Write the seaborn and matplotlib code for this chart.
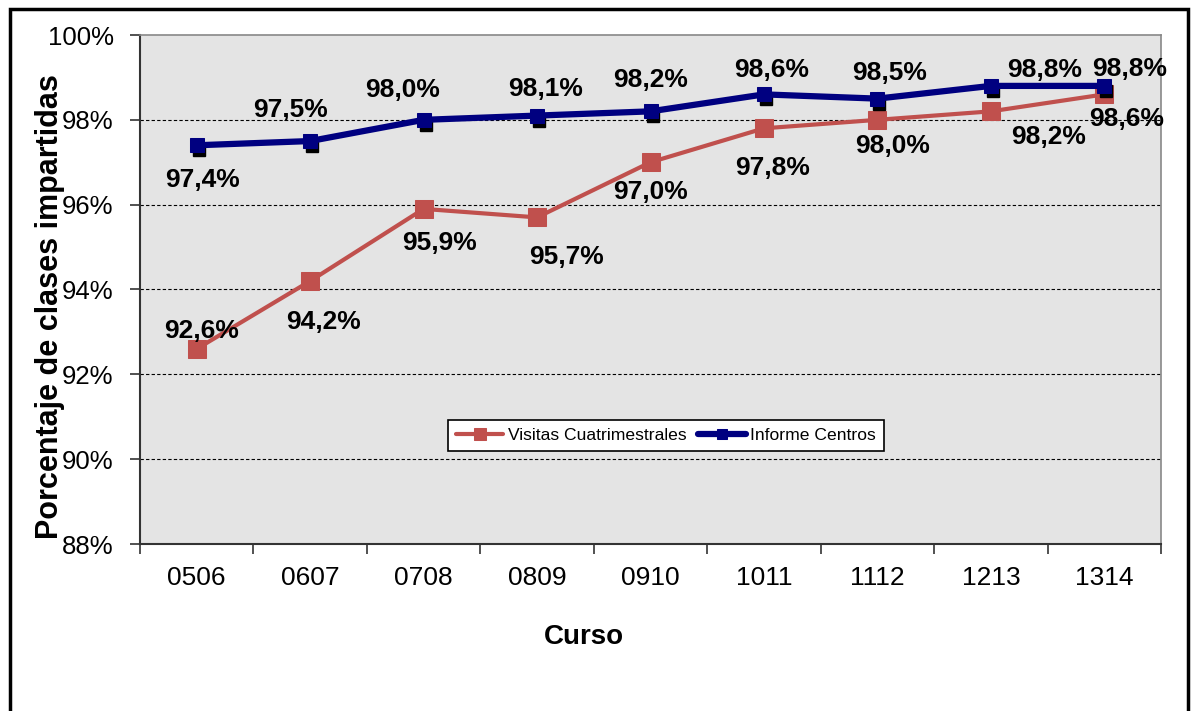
import numpy as np
import pandas as pd
import matplotlib
matplotlib.use("Agg")
import matplotlib.pyplot as plt
import matplotlib.ticker as mticker
from matplotlib.patches import Rectangle
from matplotlib.transforms import offset_copy
import seaborn as sns

# ── Datos ───────────────────────────────────────────────────────
cursos = ["0506", "0607", "0708", "0809", "0910", "1011", "1112", "1213", "1314"]
visitas = [92.6, 94.2, 95.9, 95.7, 97.0, 97.8, 98.0, 98.2, 98.6]
informe = [97.4, 97.5, 98.0, 98.1, 98.2, 98.6, 98.5, 98.8, 98.8]
serie_visitas = "Visitas Cuatrimestrales"
serie_informe = "Informe Centros"

# desplazamiento de las etiquetas de datos (px: dx, dy hacia arriba)
desp_visitas = [(5, 22), (13, -37), (16, -30), (29, -35), (0, -26),
                (9, -36), (15, -22), (58, -21), (22, -20)]
desp_informe = [(6, -31), (-20, 35), (-21, 34), (9, 31), (0, 36),
                (8, 29), (12, 30), (54, 20), (25, 21)]

sns.set_theme(style="white")
plt.rcParams["font.family"] = ["Liberation Sans", "DejaVu Sans"]
plt.rcParams["text.color"] = "black"
plt.rcParams["axes.labelcolor"] = "black"
plt.rcParams["xtick.color"] = "black"
plt.rcParams["ytick.color"] = "black"

df = pd.DataFrame({
    "Curso": cursos * 2,
    "valor": visitas + informe,
    "serie": [serie_visitas] * len(cursos) + [serie_informe] * len(cursos),
})

fig = plt.figure(figsize=(11.91, 7.11), dpi=100)
ax = fig.add_axes([140 / 1191, 1 - 544 / 711, 1021 / 1191, 509 / 711])
ax.set_facecolor("#e4e4e4")

rojo, azul = "#c0504d", "#000080"
sns.lineplot(data=df[df.serie == serie_visitas], x="Curso", y="valor",
             color=rojo, lw=3, marker="s", markersize=13,
             markeredgecolor=rojo, label=serie_visitas, ax=ax, zorder=3)
# sombra negra bajo los marcadores azules
sombra = offset_copy(ax.transData, fig=fig, x=2, y=-5, units="dots")
ax.plot(range(len(cursos)), informe, "s", color="black", ms=8,
        transform=sombra, zorder=3.5)
sns.lineplot(data=df[df.serie == serie_informe], x="Curso", y="valor",
             color=azul, lw=4.5, marker="s", markersize=10,
             markeredgecolor=azul, label=serie_informe, ax=ax, zorder=4)

# etiquetas de datos
for serie, desp in [(visitas, desp_visitas), (informe, desp_informe)]:
    for i, (v, (dx, dy)) in enumerate(zip(serie, desp)):
        ax.annotate(f"{v:.1f}".replace(".", ",") + "%", (i, v),
                    xytext=(dx * 0.72, dy * 0.72 - 3), textcoords="offset points",
                    ha="center", va="center", fontsize=19, fontweight="bold",
                    color="black", zorder=5, annotation_clip=False)

ax.set_ylim(88, 100)
ax.set_xlim(-0.5, len(cursos) - 0.5)
ax.yaxis.set_major_locator(mticker.MultipleLocator(2))
ax.yaxis.set_major_formatter(mticker.FuncFormatter(lambda v, _: f"{v:.0f}%"))
for g in [90, 92, 94, 96, 98]:
    ax.axhline(g, color="black", lw=0.8, ls=(0, (3, 2)), zorder=1)

ax.set_xticks(range(len(cursos)))
ax.set_xticklabels(cursos)
ax.set_xticks(np.arange(-0.5, len(cursos), 1), minor=True)
ax.tick_params(axis="x", which="major", length=0, labelsize=19, pad=16)
ax.tick_params(axis="x", which="minor", length=7, width=1.2, color="#333333",
               direction="out", bottom=True)
ax.tick_params(axis="y", length=7, width=1.2, color="#333333", direction="out",
               left=True, labelsize=18.5, pad=12)

for s in ["left", "bottom"]:
    ax.spines[s].set_color("#333333")
    ax.spines[s].set_linewidth(1.5)
for s in ["top", "right"]:
    ax.spines[s].set_color("#888888")
    ax.spines[s].set_linewidth(1.2)

ax.set_xlabel("Curso", fontsize=20, fontweight="bold")
ax.xaxis.set_label_coords(0.435, -0.158)
ax.set_ylabel("Porcentaje de clases impartidas", fontsize=22, fontweight="bold")
ax.yaxis.set_label_coords(-0.073, 0.466)

leg = ax.legend(loc="center", bbox_to_anchor=(0.515, 0.214), ncol=2, frameon=True,
                fancybox=False, fontsize=12.6, handlelength=2.7, columnspacing=0.7,
                handletextpad=0.25, borderpad=0.45, markerscale=0.7)
leg.get_frame().set_edgecolor("black")
leg.get_frame().set_facecolor("white")
leg.get_frame().set_linewidth(1.2)
leg.get_frame().set_alpha(1)

# marco exterior del gráfico
fig.patches.append(Rectangle((10 / 1191, -0.05), 1178 / 1191, 1.05 - 9 / 711,
                             transform=fig.transFigure, fill=False,
                             edgecolor="black", lw=2.5))

fig.savefig("out.png", dpi=100)
